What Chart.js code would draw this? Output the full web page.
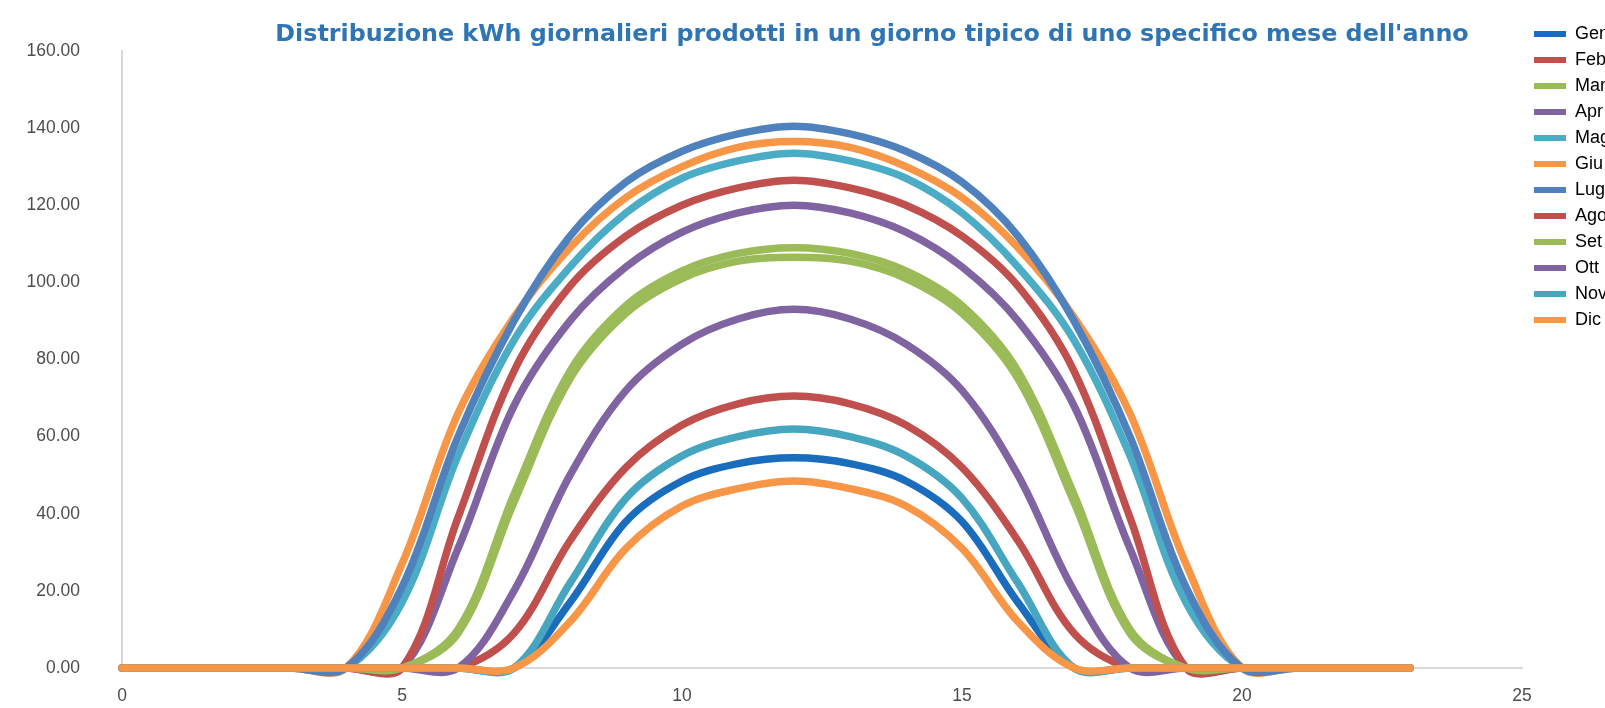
<!DOCTYPE html>
<html lang="it">
<head>
<meta charset="UTF-8">
<title>Distribuzione kWh giornalieri</title>
<script src="https://cdn.jsdelivr.net/npm/chart.js"></script>
<style>
html, body {
margin: 0;
padding: 0;
background-color: #fff;
}
#wrap {
width: 1605px;
height: 708px;
}
</style>
</head>
<body>
<div id="wrap"><canvas id="kwhChart" width="1605" height="708"></canvas></div>

<script>
// ore del giorno (asse x)
const hours = [0, 1, 2, 3, 4, 5, 6, 7, 8, 9, 10, 11, 12, 13, 14, 15, 16, 17, 18, 19, 20, 21, 22, 23];

// kWh prodotti per ora, un array per mese
const gen = [0, 0, 0, 0, 0, 0, 0, 0, 17, 38, 48.5, 53, 54.5, 53, 48.5, 38, 17, 0, 0, 0, 0, 0, 0, 0];
const feb = [0, 0, 0, 0, 0, 0, 0, 9, 33, 52, 63, 68.5, 70.5, 68.5, 63, 52, 33, 9, 0, 0, 0, 0, 0, 0];
const mar = [0, 0, 0, 0, 0, 0, 9, 43, 75, 92, 101, 105.5, 106.5, 105.5, 101, 92, 75, 43, 9, 0, 0, 0, 0, 0];
const apr = [0, 0, 0, 0, 0, 0, 31, 68, 90, 104, 113, 118, 120, 118, 113, 104, 90, 68, 31, 0, 0, 0, 0, 0];
const mag = [0, 0, 0, 0, 0, 17, 55, 85, 104, 118, 127, 131.5, 133.5, 131.5, 127, 118, 104, 85, 55, 17, 0, 0, 0, 0];
const giu = [0, 0, 0, 0, 0, 27, 66, 91, 109, 122, 130, 135, 136.5, 135, 130, 122, 109, 91, 66, 27, 0, 0, 0, 0];
const lug = [0, 0, 0, 0, 0, 21, 60, 90, 112, 126, 134, 138.5, 140.5, 138.5, 134, 126, 112, 90, 60, 21, 0, 0, 0, 0];
const ago = [0, 0, 0, 0, 0, 0, 39, 77, 99, 112, 120, 124.5, 126.5, 124.5, 120, 112, 99, 77, 39, 0, 0, 0, 0, 0];
const set = [0, 0, 0, 0, 0, 0, 10, 45, 77, 94, 103, 107.5, 109, 107.5, 103, 94, 77, 45, 10, 0, 0, 0, 0, 0];
const ott = [0, 0, 0, 0, 0, 0, 0, 20, 50, 72, 84, 90.5, 93, 90.5, 84, 72, 50, 20, 0, 0, 0, 0, 0, 0];
const nov = [0, 0, 0, 0, 0, 0, 0, 0, 22, 44, 55, 60, 62, 60, 55, 44, 22, 0, 0, 0, 0, 0, 0, 0];
const dic = [0, 0, 0, 0, 0, 0, 0, 0, 12, 31, 42, 46.5, 48.5, 46.5, 42, 31, 12, 0, 0, 0, 0, 0, 0, 0];

const monthNames = ['Gen', 'Feb', 'Mar', 'Apr', 'Mag', 'Giu', 'Lug', 'Ago', 'Set', 'Ott', 'Nov', 'Dic'];
const monthValues = [gen, feb, mar, apr, mag, giu, lug, ago, set, ott, nov, dic];
const monthColors = ['#1a6dbd', '#c0504d', '#9bbb59', '#8064a2', '#4bacc6', '#f79646',
                     '#4f81bd', '#c0504d', '#9bbb59', '#8064a2', '#46a6bf', '#f79646'];

const xTicks = [0, 5, 10, 15, 20, 25];
const yTicks = [0, 20, 40, 60, 80, 100, 120, 140, 160];

const titleText = "Distribuzione kWh giornalieri prodotti in un giorno tipico di uno specifico mese dell'anno";

const datasets = monthNames.map((name, i) => ({
label: name,
data: hours.map((h, j) => ({ x: h, y: monthValues[i][j] })),
borderColor: monthColors[i],
backgroundColor: monthColors[i],
borderWidth: 7.5,
pointRadius: 0,
tension: 0.35,
clip: false,
// Dic disegnato per ultimo, sopra a tutti
order: monthNames.length - i
}));

// titolo un po' spostato a destra e legenda accostata al bordo, come nell'originale
const placeBoxes = {
id: 'placeBoxes',
afterLayout(chart) {
const t = chart.titleBlock;
const center = 872;
t.left = 2 * center - chart.width;
t.right = chart.width;
chart.legend.left += 4;
chart.legend.right += 4;
}
};

const ctx = document.getElementById('kwhChart').getContext('2d');
new Chart(ctx, {
type: 'line',
data: { datasets: datasets },
plugins: [placeBoxes],
options: {
responsive: false,
animation: false,
devicePixelRatio: 1,
layout: {
padding: { top: 17, left: 0, right: 0, bottom: 0 }
},
elements: {
line: {
capBezierPoints: false,
borderCapStyle: 'round',
borderJoinStyle: 'round'
}
},
plugins: {
title: {
display: true,
text: titleText,
color: '#2e75b6',
font: { family: 'DejaVu Sans', size: 23.8, weight: 'bold', lineHeight: 1.2 },
padding: { top: 3.7, bottom: 1.7 }
},
legend: {
position: 'right',
align: 'start',
maxWidth: 83,
labels: {
boxWidth: 32,
boxHeight: 6,
padding: 8,
color: '#262626',
font: { family: 'Liberation Sans', size: 18 },
generateLabels: chart => chart.data.datasets.map((ds, i) => ({
text: ds.label,
fillStyle: ds.borderColor,
strokeStyle: ds.borderColor,
lineWidth: 0,
hidden: false,
datasetIndex: i
}))
}
},
tooltip: { enabled: false }
},
scales: {
x: {
type: 'linear',
min: 0,
max: 25,
afterBuildTicks: scale => { scale.ticks = xTicks.map(v => ({ value: v })); },
afterFit: scale => { scale.height = 40; },
ticks: {
color: '#4d4d4d',
font: { family: 'Liberation Sans', size: 17.5 },
padding: 18,
maxRotation: 0
},
grid: { display: false, drawTicks: false },
border: { display: true, color: '#d9d9d9', width: 2 }
},
y: {
min: 0,
max: 160,
afterBuildTicks: scale => { scale.ticks = yTicks.map(v => ({ value: v })); },
afterFit: scale => {
scale.width = 122;
scale.paddingTop = 0;
scale.paddingBottom = 0;
},
ticks: {
color: '#4d4d4d',
font: { family: 'Liberation Sans', size: 17.5 },
padding: 42,
callback: v => v.toFixed(2)
},
grid: { display: false, drawTicks: false },
border: { display: true, color: '#d9d9d9', width: 2 }
}
}
}
});
</script>
</body>
</html>
